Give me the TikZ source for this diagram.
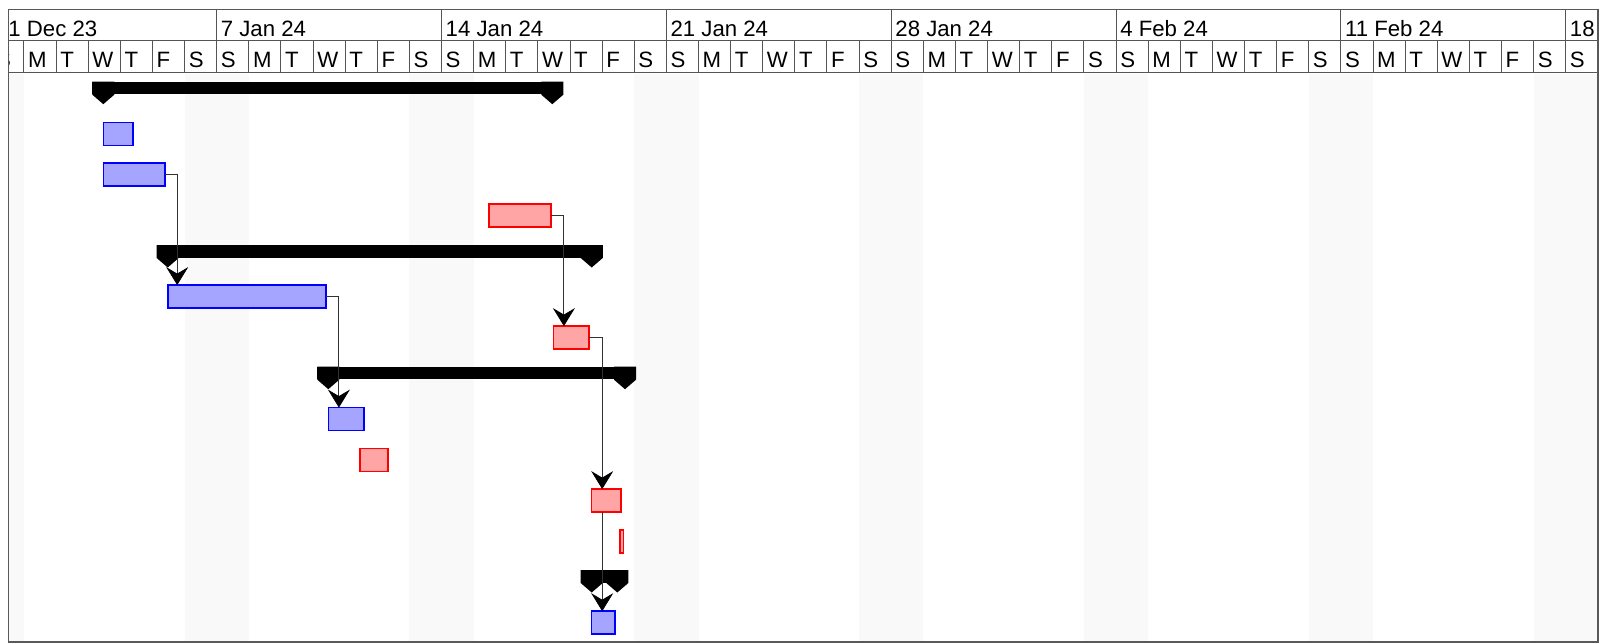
\documentclass[tikz,border=0pt]{standalone}
\usepackage{fontspec}
\setmainfont{Liberation Sans}
\usetikzlibrary{arrows.meta}
\definecolor{taskblue}{HTML}{A5A5FF}
\definecolor{taskred}{HTML}{FFA5A5}
\definecolor{wkend}{HTML}{F9F9F9}
\definecolor{gridc}{HTML}{555555}
\begin{document}
\begin{tikzpicture}[x=1pt,y=-1pt,
  hdr/.style={font=\fontsize{22.2}{24}\selectfont, inner sep=0pt, anchor=base west},
  gridline/.style={draw=gridc, line width=1pt},
  framec/.style={draw=black!65, line width=1.5pt},
  btask/.style={draw=blue, fill=taskblue, line width=1.6pt, minimum height=23pt, inner sep=0pt, outer sep=0pt},
  rtask/.style={draw=red, fill=taskred, line width=1.6pt, minimum height=23pt, inner sep=0pt, outer sep=0pt},
  sumbar/.style={fill=black, inner sep=0pt, outer sep=0pt, minimum height=12.5pt},
  sumcap/.style={fill=black},
  conn/.style={draw=black!80, line width=1.1pt},
  arr/.style={-{Stealth[length=18pt,width=22pt,inset=6.5pt,color=black,line width=0.8pt]}}
]
\useasboundingbox (0,0) rectangle (1613,643);
\fill[white] (0,0) rectangle (1613,643);
\begin{scope}
  \clip (8.3,9.3) rectangle (1598,642);
  % weekend shading
  \foreach \n in {0,6,7,13,14,20,21,27,28,34,35,41,42,48,49}
    \fill[wkend] ({-8.14+32.12*\n},73.5) rectangle ++(32.12,568.5);
  % day grid lines
  \foreach \n in {1,...,49}
    \draw[gridline] ({-8.14+32.12*\n},40.7) -- ++(0,32);
  \foreach \n in {7,14,...,49}
    \draw[gridline] ({-8.14+32.12*\n},9.3) -- ++(0,31.4);
  % day letters
  \foreach \n in {0,...,49}{
    \pgfmathtruncatemacro\m{mod(\n,7)}
    \node[hdr] (d\n) at ({-8.14+32.12*\n+4},67.3) {\ifcase\m S\or M\or T\or W\or T\or F\or S\fi};
  }
  % week labels
  \foreach \n/\t in {0/31 Dec 23,7/7 Jan 24,14/14 Jan 24,21/21 Jan 24,28/28 Jan 24,35/4 Feb 24,42/11 Feb 24,49/18 Feb 24}
    \node[hdr] (w\n) at ({-8.14+32.12*\n+4},36) {\t};
\end{scope}
% header horizontal lines and frame
\draw[gridline] (8.3,40.7) -- (1598,40.7);
\draw[gridline] (8.3,72.7) -- (1598,72.7);
\draw[framec] (8.3,9.3) rectangle (1598,642);

% summary bars
\node[sumbar, minimum width=471pt] (s1) at (327.8,87.95) {};
\node[sumbar, minimum width=446pt] (s5) at (379.7,251.25) {};
\node[sumbar, minimum width=318.7pt] (s8) at (476.65,372.95) {};
\node[sumbar, minimum width=47.6pt] (s13) at (604.5,576.25) {};
\foreach \s in {s1,s5,s8,s13}{
  \fill[sumcap] (\s.north west) -- ++(22,0) -- ++(0,13) -- ++(-11,9.5) -- ++(-11,-9.5) -- cycle;
  \fill[sumcap] (\s.north east) -- ++(-22,0) -- ++(0,13) -- ++(11,9.5) -- ++(11,-9.5) -- cycle;
}

% tasks
\node[btask, minimum width=29.7pt] (t2) at (118.35,134.0) {};
\node[btask, minimum width=61.7pt] (t3) at (134.35,174.7) {};
\node[rtask, minimum width=61.8pt] (t4) at (520,215.5) {};
\node[btask, minimum width=157.8pt] (t6) at (247,296.6) {};
\node[rtask, minimum width=35.7pt] (t7) at (571.35,337.6) {};
\node[btask, minimum width=35.7pt] (t9) at (346.35,419.1) {};
\node[rtask, minimum width=27.8pt] (t10) at (374,459.8) {};
\node[rtask, minimum width=29.7pt] (t11) at (606.35,500.6) {};
\node[rtask, minimum width=3.7pt] (t12) at (621.65,541.2) {};
\node[btask, minimum width=23.7pt] (t14) at (603.35,622.7) {};

% connectors
\draw[conn,arr] (t3.east) -- ++(12,0) coordinate (k3) -- (k3 |- t6.north);
\draw[conn,arr] (t6.east) -- ++(13,0) coordinate (k6) -- (k6 |- t9.north);
\draw[conn,arr] (t4.east) -- ++(13,0) coordinate (k4) -- (k4 |- t7.north);
\draw[conn,arr] (t7.east) -- ++(13,0) coordinate (k7) -- (k7 |- t11.north);
\draw[conn,arr] (k7 |- t11.south) -- (k7 |- t14.north);
\end{tikzpicture}
\end{document}
